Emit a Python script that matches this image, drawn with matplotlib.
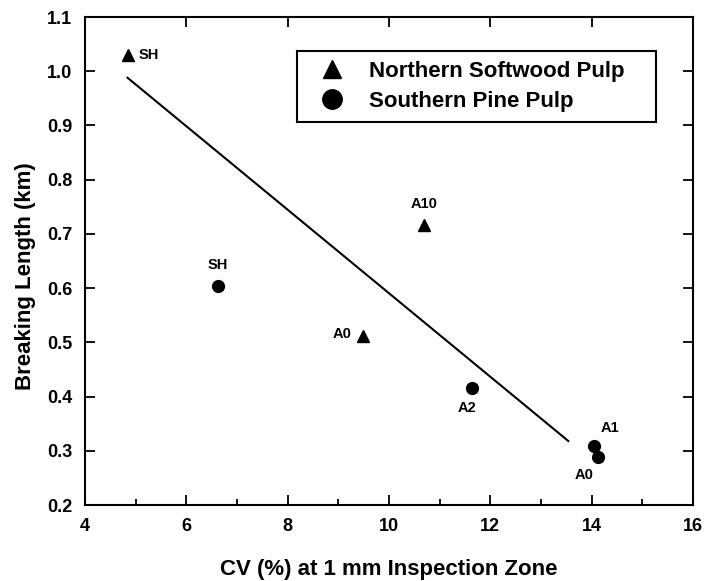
import matplotlib
matplotlib.use("Agg")
import matplotlib.pyplot as plt
from matplotlib.ticker import MultipleLocator, FormatStrFormatter
from matplotlib.lines import Line2D

plt.rcParams['font.family'] = ['Liberation Sans', 'DejaVu Sans']
plt.rcParams['font.weight'] = 'bold'

# Data
north_x = [4.84, 9.49, 10.70]
north_y = [1.03, 0.511, 0.716]
north_labels = ["SH", "A0", "A10"]

south_x = [6.63, 11.63, 14.04, 14.12]
south_y = [0.604, 0.415, 0.308, 0.288]
south_labels = ["SH", "A2", "A1", "A0"]

fit_x = [4.84, 13.54]
fit_y = [0.988, 0.318]

fig = plt.figure(figsize=(7.04, 5.81), dpi=100)
ax = fig.add_axes([0.1207, 0.1308, 0.8636, 0.8399])

ax.plot(fit_x, fit_y, color='black', lw=1.5)
ax.plot(north_x, north_y, linestyle='none', marker='^', color='black', ms=9)
ax.plot(south_x, south_y, linestyle='none', marker='o', color='black', ms=8.5)

lab_kw = dict(fontsize=10.5, fontweight='bold')
offsets_n = [((8, 0), 'left', 'center'),
             ((-8, 2), 'right', 'center'),
             ((0, 10), 'center', 'bottom')]
for x, y, t, (off, ha, va) in zip(north_x, north_y, north_labels, offsets_n):
    ax.annotate(t, (x, y), xytext=off, textcoords='offset points', ha=ha, va=va, **lab_kw)
offsets_s = [((0, 10), 'center', 'bottom'),
             ((-3, -9), 'center', 'top'),
             ((12, 8), 'center', 'bottom'),
             ((-10, -8), 'center', 'top')]
for x, y, t, (off, ha, va) in zip(south_x, south_y, south_labels, offsets_s):
    ax.annotate(t, (x, y), xytext=off, textcoords='offset points', ha=ha, va=va, **lab_kw)

ax.set_xlim(4, 16)
ax.set_ylim(0.2, 1.1)
ax.xaxis.set_major_locator(MultipleLocator(2))
ax.xaxis.set_minor_locator(MultipleLocator(1))
ax.yaxis.set_major_locator(MultipleLocator(0.1))
ax.yaxis.set_major_formatter(FormatStrFormatter('%.1f'))
ax.tick_params(which='both', direction='in', top=True, right=True, labelsize=13, width=1.3)
ax.tick_params(which='major', length=7)
ax.tick_params(which='minor', length=4, top=False)
for lab in ax.get_xticklabels() + ax.get_yticklabels():
    lab.set_fontweight('bold')
ax.tick_params(axis='x', pad=9)
ax.tick_params(axis='y', pad=9)
for s in ax.spines.values():
    s.set_linewidth(1.5)

ax.set_xlabel('CV (%) at 1 mm Inspection Zone', fontsize=16, fontweight='bold')
ax.set_ylabel('Breaking Length (km)', fontsize=16, fontweight='bold')
ax.yaxis.set_label_coords(-0.081, 0.47)
ax.xaxis.set_label_coords(0.5, -0.11)

handles = [Line2D([], [], linestyle='none', marker='^', color='black', ms=13),
           Line2D([], [], linestyle='none', marker='o', color='black', ms=14)]
leg = ax.legend(handles, ['Northern Softwood Pulp', 'Southern Pine Pulp'],
                loc='upper left', bbox_to_anchor=(0.349, 0.781, 0.590, 0.149),
                mode='expand', borderaxespad=0, fancybox=False, framealpha=1,
                edgecolor='black', prop={'size': 16, 'weight': 'bold'},
                handletextpad=0.6, borderpad=0.45, labelspacing=0.4,
                handlelength=2.2)
leg.get_frame().set_linewidth(1.5)

fig.savefig('out.png', dpi=100)
